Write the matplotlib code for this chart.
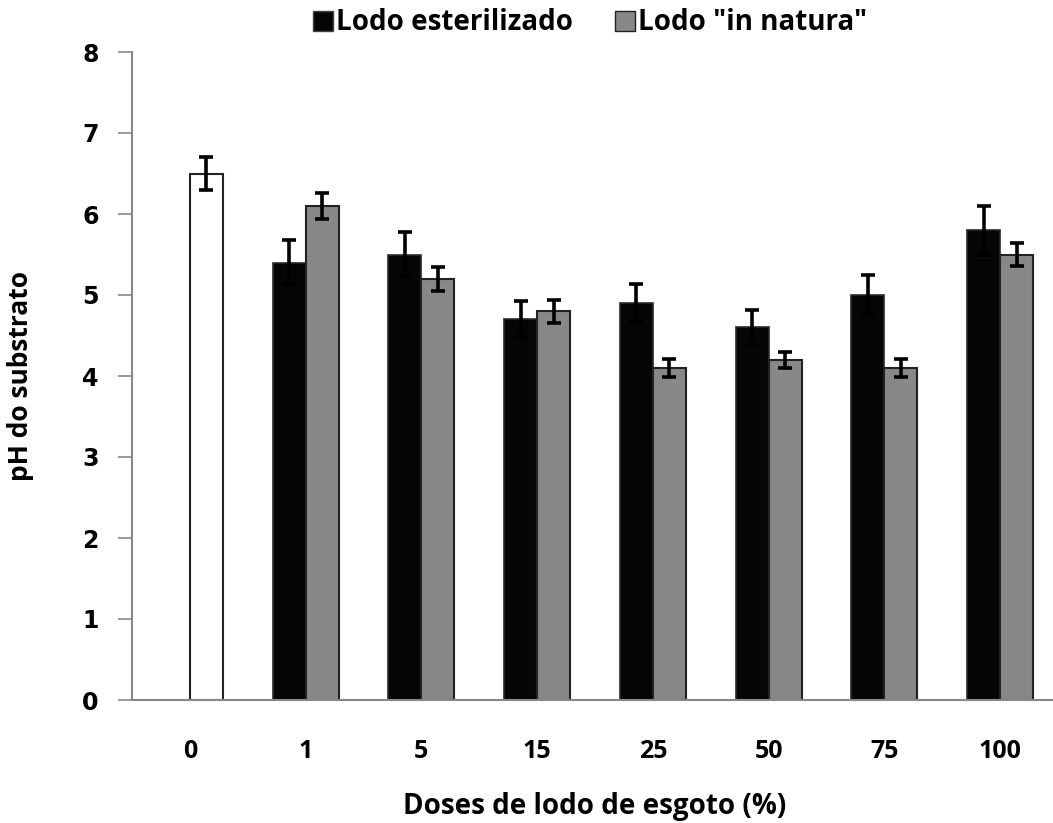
import matplotlib.pyplot as plt
import numpy as np
from matplotlib.patches import Patch

# pH do substrato por dose de lodo
doses = ['0', '1', '5', '15', '25', '50', '75', '100']
esterilizado = [0, 5.4, 5.5, 4.7, 4.9, 4.6, 5.0, 5.8]
esterilizado_err = [0, 0.28, 0.28, 0.22, 0.23, 0.22, 0.25, 0.30]
in_natura = [6.5, 6.1, 5.2, 4.8, 4.1, 4.2, 4.1, 5.5]
in_natura_err = [0.20, 0.16, 0.15, 0.14, 0.11, 0.10, 0.11, 0.14]

fonte = {'family': 'Open Sans', 'weight': 'bold'}

fig = plt.figure(figsize=(10.53, 8.23), dpi=100)
ax = fig.add_axes([132/1053, 123/823, 926/1053, 648/823])

x = np.arange(len(doses))
w = 0.285

# dose 0 = testemunha, sem lodo esterilizado
xb = x[1:] - w/2
ax.bar(xb, esterilizado[1:], w, color='#050505', edgecolor='#2a2a2a', linewidth=1.2, zorder=2)
cores = ['white'] + ['#888888'] * (len(doses) - 1)
ax.bar(x + w/2, in_natura, w, color=cores, edgecolor='#222222', linewidth=1.5, zorder=2)

eb = dict(fmt='none', ecolor='black', elinewidth=2.6, capsize=5, capthick=2.6, zorder=3)
ax.errorbar(xb, esterilizado[1:], yerr=esterilizado_err[1:], **eb)
ax.errorbar(x + w/2, in_natura, yerr=in_natura_err, **eb)

ax.set_xlim(-0.5, len(doses) - 0.5)
ax.set_ylim(0, 8)
ax.set_yticks(range(0, 9))
ax.set_xticks(x)
ax.set_xticklabels(doses, fontsize=18, **fonte)
for t in ax.get_yticklabels():
    t.set_fontweight('bold')
    t.set_fontsize(17)
ax.tick_params(axis='y', length=10, width=1.2, color='#888888', pad=14)
ax.tick_params(axis='x', length=0, pad=28)
for s in ['top', 'right']:
    ax.spines[s].set_visible(False)
for s in ['left', 'bottom']:
    ax.spines[s].set_color('#888888')
    ax.spines[s].set_linewidth(1.5)

ax.set_ylabel('pH do substrato', fontsize=19, **fonte)
ax.yaxis.set_label_coords(-0.1199, 0.5)
ax.yaxis.label.set_va('center')
ax.set_xlabel('Doses de lodo de esgoto (%)', fontsize=20, **fonte)
ax.xaxis.set_label_coords(0.5, -0.1636)
ax.xaxis.label.set_va('center')

handles = [Patch(facecolor='#050505', edgecolor='#444444', label='Lodo esterilizado'),
           Patch(facecolor='#888888', edgecolor='#222222', label='Lodo "in natura"')]
fig.legend(handles=handles, loc='center left', bbox_to_anchor=(299/1053, 1 - 23/823), ncol=2,
           frameon=False, prop={**fonte, 'size': 20}, borderpad=0,
           handlelength=0.72, handleheight=0.72, handletextpad=0.12, columnspacing=1.5)

fig.savefig('out.png', dpi=100)
